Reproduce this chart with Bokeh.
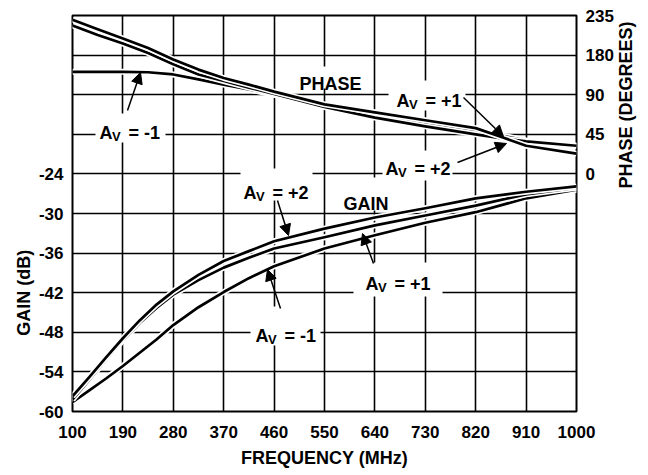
import math
import numpy as np
from bokeh.plotting import figure
from bokeh.models import Range1d, LinearAxis, FixedTicker, Label, Arrow, NormalHead
from bokeh.embed import file_html
from bokeh.resources import INLINE

# ---------------- data ----------------
x_ticks = [100, 190, 280, 370, 460, 550, 640, 730, 820, 910, 1000]
gain_ticks = [-60, -54, -48, -42, -36, -30, -24]
grid_levels = [-60, -54, -48, -42, -36, -30, -24, -18, -12, -6, 0]
phase_tick_labels = [0, 45, 90, 180, 235]          # printed phase labels
phase_tick_pos = [-24, -18, -12, -6, 0]            # grid lines carrying them

gain_freq = [100, 130, 160, 190, 220, 250, 280, 325, 370, 415, 460, 550, 640, 730, 820, 910, 1000]
gain_av_p2 = [-57.7, -54.8, -51.8, -48.9, -46.2, -43.8, -41.8, -39.3, -37.2, -35.7, -34.2, -32.3, -30.6, -29.2, -27.7, -26.7, -25.9]
gain_av_p1 = [-58.2, -55.2, -52.1, -49.2, -46.6, -44.3, -42.3, -40.1, -38.2, -36.7, -35.3, -33.6, -31.8, -30.3, -28.8, -27.1, -26.1]
gain_av_m1 = [-58.6, -56.8, -55.0, -53.1, -51.1, -49.1, -46.9, -44.2, -41.9, -39.8, -38.0, -35.3, -33.3, -31.4, -29.8, -27.7, -26.4]

phase_freq = [100, 145, 190, 235, 280, 325, 370, 415, 460, 550, 640, 730, 820, 870, 910, 1000]
phase_av_p2 = [229, 216, 203, 190, 170, 147, 128, 113, 97, 79, 70, 61, 52, 41, 32, 23]
phase_av_p1 = [221, 208, 196, 183, 159, 136, 121, 106, 92, 76, 64, 54, 45, 40, 37, 32]
phase_av_m1 = [142, 142, 142, 141, 136, 125, 113, 102, 90, 77, 67, 57, 48, 43, 38, 32]

FONT = "Liberation Sans"
NBSP = "\u00a0"

def phase_pos(deg):
    return np.interp(deg, phase_tick_labels, phase_tick_pos)

# reference-pixel helpers for annotation placement (frame 72..576 x 15..411)
def fx(px):
    return 100 + (px - 72) * 900.0 / 504.0

def fy(py):
    return -(py - 15) * 60.0 / 396.0

p = figure(frame_width=504, frame_height=396, x_range=Range1d(100, 1000), y_range=Range1d(-60, 0),
           output_backend="svg", toolbar_location=None,
           min_border_left=72, min_border_right=70, min_border_top=15, min_border_bottom=58)
p.background_fill_color = "white"
p.border_fill_color = "white"
p.outline_line_color = "black"
p.outline_line_width = 2

def style_axis(ax, standoff, size="17px", tick_out=0):
    ax.major_label_text_font = FONT
    ax.major_label_text_font_style = "bold"
    ax.major_label_text_font_size = size
    ax.major_label_text_color = "black"
    ax.axis_label_text_font = FONT
    ax.axis_label_text_font_style = "bold"
    ax.axis_label_text_font_size = "18px"
    ax.axis_label_text_color = "black"
    ax.major_tick_line_color = None
    ax.minor_tick_line_color = None
    ax.major_tick_out = tick_out
    ax.major_tick_in = 0
    ax.minor_tick_out = 0
    ax.minor_tick_in = 0
    ax.axis_line_color = None
    ax.major_label_standoff = standoff

xa = p.xaxis[0]
xa.ticker = FixedTicker(ticks=x_ticks)
xa.axis_label = "FREQUENCY (MHz)"
style_axis(xa, 14)
xa.axis_label_standoff = 7

ya = p.yaxis[0]
ya.ticker = FixedTicker(ticks=gain_ticks)
ya.major_label_overrides = {t: str(t) for t in gain_ticks}   # plain hyphen minus as printed
style_axis(ya, 9)

# left title placed as a single label centred on the gain part of the scale
gain_title_at = -42
ga = LinearAxis(ticker=FixedTicker(ticks=[gain_title_at]),
                major_label_overrides={gain_title_at: "GAIN (dB)"},
                major_label_orientation="vertical")
style_axis(ga, 1, size="18px")
p.add_layout(ga, "left")

ra = LinearAxis(ticker=FixedTicker(ticks=phase_tick_pos),
                major_label_overrides={pos: str(lab) for pos, lab in zip(phase_tick_pos, phase_tick_labels)},
                axis_label=NBSP * 5 + "PHASE (DEGREES)")
style_axis(ra, 9)
ra.axis_label_standoff = 9
ra.axis_label_orientation = math.pi / 2
p.add_layout(ra, "right")

p.xgrid.ticker = FixedTicker(ticks=x_ticks)
p.ygrid.ticker = FixedTicker(ticks=grid_levels)
for g in (p.xgrid[0], p.ygrid[0]):
    g.grid_line_color = "black"
    g.grid_line_width = 1.6
    g.grid_line_alpha = 1.0

# white label boxes (reference pixel extents)
boxes = [(95, 165, 113, 142), (240, 312, 168, 200), (388, 465, 80, 110), (382, 452, 150, 180),
         (353, 442, 262, 296), (250, 320, 306, 345), (297, 364, 66, 88), (340, 392, 177, 210)]
p.quad(left=[fx(b[0]) for b in boxes], right=[fx(b[1]) for b in boxes],
       top=[fy(b[2]) for b in boxes], bottom=[fy(b[3]) for b in boxes],
       fill_color="white", line_color=None)

def curve(xs, ys):
    p.line(xs, ys, line_color="white", line_width=6, line_join="round")
    p.line(xs, ys, line_color="black", line_width=2.7, line_join="round")

curve(phase_freq, phase_pos(phase_av_m1))
curve(phase_freq, phase_pos(phase_av_p1))
curve(phase_freq, phase_pos(phase_av_p2))
curve(gain_freq, gain_av_m1)
curve(gain_freq, gain_av_p1)
curve(gain_freq, gain_av_p2)

def text(px, py, s, size="18px", xoff=0, yoff=0):
    p.add_layout(Label(x=fx(px), y=fy(py), text=s, x_offset=xoff, y_offset=yoff,
                       text_font=FONT, text_font_style="bold", text_font_size=size,
                       text_color="black", text_align="left", text_baseline="alphabetic"))

def av_label(px, py, rest):
    text(px, py, "A")
    text(px, py, "V", size="13px", xoff=12.5, yoff=-4)
    text(px, py, rest, xoff=29)

av_label(99, 132, "= -1")
av_label(243, 192, "= +2")
av_label(396, 100, "= +1")
av_label(385, 168, "= +2")
av_label(365, 283, "= +1")
av_label(255, 335, "= -1")
text(299, 83, "PHASE")
text(343, 203, "GAIN")

arrows = [((127, 110), (140, 72)), ((277, 200), (288, 235)), ((463, 97), (503, 136)),
          ((457, 162), (506, 143)), ((373, 263), (362, 233)), ((280, 308), (267, 269))]
for (a, b) in arrows:
    p.add_layout(Arrow(x_start=fx(a[0]), y_start=fy(a[1]), x_end=fx(b[0]), y_end=fy(b[1]),
                       line_color="black", line_width=1.5,
                       end=NormalHead(size=11, fill_color="black", line_color="black", line_width=1)))

open("out.html", "w").write(file_html(p, INLINE))
